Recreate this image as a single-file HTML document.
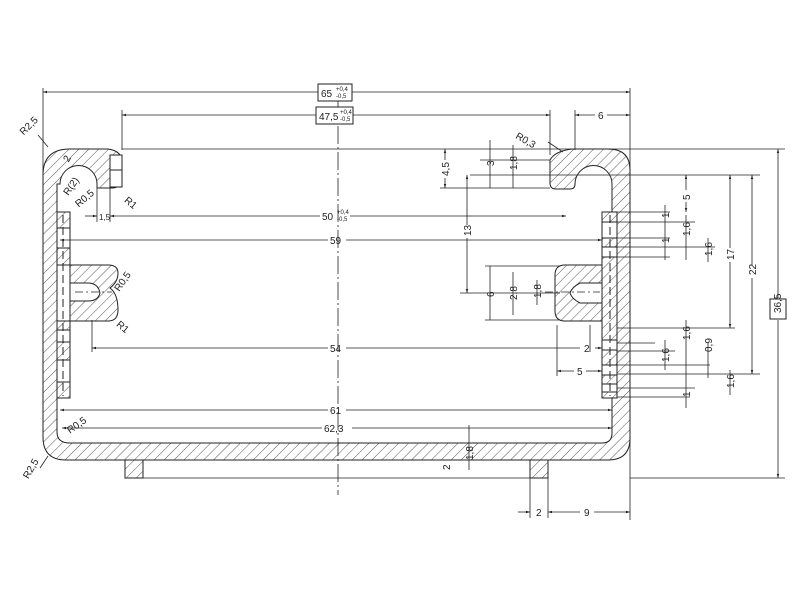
<!DOCTYPE html>
<html><head><meta charset="utf-8"><style>
html,body{margin:0;padding:0;background:#fff}
svg{display:block}
text{font-family:"Liberation Sans",sans-serif;font-size:10px;fill:#222}
</style></head><body>
<svg width="800" height="600" viewBox="0 0 800 600" xmlns="http://www.w3.org/2000/svg">
<defs>
<pattern id="h" patternUnits="userSpaceOnUse" width="7" height="7" patternTransform="rotate(45)">
<rect width="7" height="7" fill="#fff"/><line x1="0" y1="0" x2="0" y2="7" stroke="#444" stroke-width="0.9"/>
</pattern>
<marker id="a" viewBox="0 0 10 10" refX="10" refY="5" markerWidth="7" markerHeight="5" orient="auto-start-reverse"><path d="M0,2 L10,5 L0,8z" fill="#222"/></marker>
</defs>
<g stroke="#222" stroke-width="1" fill="none">
<!-- body -->
<path fill="url(#h)" fill-rule="evenodd" d="M43,175 Q43,149 70,149 L108,149 Q122,151 122,162 L122,180 Q120,188 112,188 L97,188 L97,184 A18.5,18.5 0 0 0 60,184 L57,184 L57,432 Q57,443 70,443 L602,443 Q612,443 612,433 L612,184 A18.5,18.5 0 0 0 575,184 L575,184 Q575,189 570,189 L556,189 Q550,189 550,183 L550,160 Q555,151 572,149 L608,149 Q630,149 630,170 L630,438 Q630,460 608,460 L66,460 Q43,460 43,437 Z"/>
<rect x="110" y="155" width="12" height="32" fill="#fff"/>
<line x1="110" y1="170" x2="122" y2="170"/>
<!-- inserts -->
<rect x="57" y="212" width="13" height="186" fill="url(#h)"/>
<rect x="602" y="212" width="15" height="186" fill="url(#h)"/>
<g fill="#fff">
<rect x="57" y="228" width="13" height="20"/><rect x="57" y="265" width="13" height="56"/>
<rect x="57" y="330" width="13" height="12"/><rect x="57" y="360" width="13" height="22"/>
<rect x="602" y="222" width="15" height="16"/><rect x="602" y="247" width="15" height="10"/>
<rect x="602" y="340" width="15" height="10"/><rect x="602" y="365" width="15" height="10"/><rect x="602" y="384" width="15" height="8"/>
</g>
<line x1="63" y1="215" x2="63" y2="396" stroke-dasharray="8,4"/>
<line x1="610" y1="215" x2="610" y2="396" stroke-dasharray="8,4"/>
<!-- clips -->
<path fill="url(#h)" d="M70,265 L108,265 Q118,265 118,273 Q118,282 110,288 Q118,294 118,310 Q118,321 108,321 L70,321 Z"/>
<path fill="#fff" d="M70,283 L88,283 Q98,283 100,293 Q98,301 88,301 L70,301 Z"/>
<path fill="url(#h)" d="M602,265 L565,265 Q555,265 555,275 L555,311 Q555,321 565,321 L602,321 Z"/>
<path fill="#fff" d="M602,283 L580,283 Q572,287 570,293 Q572,299 580,303 L602,303 Z"/>
<!-- feet -->
<rect x="125" y="460" width="18" height="18" fill="url(#h)"/>
<rect x="530" y="460" width="18" height="18" fill="url(#h)"/>
<!-- centre line -->
<line x1="338" y1="100" x2="338" y2="495" stroke-dasharray="18,3,2,3" stroke-width="0.8"/>
<line x1="75" y1="292" x2="112" y2="292" stroke-dasharray="8,3,2,3" stroke-width="0.8"/>
<line x1="545" y1="292" x2="600" y2="292" stroke-dasharray="8,3,2,3" stroke-width="0.8"/>
</g>
<g stroke="#222" stroke-width="0.8" fill="none">
<!-- extension lines -->
<line x1="43" y1="88" x2="43" y2="175"/><line x1="630" y1="88" x2="630" y2="520"/>
<line x1="122" y1="110" x2="122" y2="150"/><line x1="550" y1="110" x2="550" y2="155"/>
<line x1="575" y1="110" x2="575" y2="150"/>
<line x1="122" y1="149" x2="785" y2="149"/>
<line x1="470" y1="175" x2="760" y2="175"/>
<line x1="440" y1="188" x2="550" y2="188"/>
<line x1="480" y1="160" x2="550" y2="160"/>
<line x1="460" y1="293" x2="560" y2="293"/>
<line x1="485" y1="266" x2="560" y2="266"/><line x1="485" y1="320" x2="560" y2="320"/>
<line x1="630" y1="478" x2="785" y2="478"/><line x1="143" y1="478" x2="530" y2="478"/>
<line x1="530" y1="478" x2="530" y2="518"/><line x1="548" y1="478" x2="548" y2="518"/>
<line x1="617" y1="212" x2="670" y2="212"/><line x1="617" y1="222" x2="695" y2="222"/>
<line x1="617" y1="238" x2="670" y2="238"/><line x1="617" y1="247" x2="715" y2="247"/><line x1="617" y1="257" x2="670" y2="257"/>
<line x1="617" y1="328" x2="735" y2="328"/><line x1="617" y1="343" x2="655" y2="343"/><line x1="617" y1="351" x2="675" y2="351"/>
<line x1="617" y1="365" x2="710" y2="365"/><line x1="617" y1="374" x2="760" y2="374"/><line x1="617" y1="388" x2="695" y2="388"/><line x1="617" y1="397" x2="690" y2="397"/>
<line x1="97" y1="188" x2="97" y2="222"/><line x1="110" y1="188" x2="110" y2="222"/>
<line x1="92" y1="320" x2="92" y2="352"/><line x1="590" y1="325" x2="590" y2="352"/><line x1="557" y1="325" x2="557" y2="376"/>
<!-- dims -->
<line x1="43" y1="92" x2="318" y2="92" marker-start="url(#a)"/><line x1="352" y1="92" x2="630" y2="92" marker-end="url(#a)"/>
<line x1="122" y1="115" x2="316" y2="115" marker-start="url(#a)"/><line x1="353" y1="115" x2="550" y2="115" marker-end="url(#a)"/>
<line x1="575" y1="115" x2="595" y2="115" marker-start="url(#a)"/><line x1="607" y1="115" x2="630" y2="115" marker-end="url(#a)"/>
<line x1="85" y1="216" x2="97" y2="216" marker-end="url(#a)"/><line x1="110" y1="216" x2="320" y2="216" marker-start="url(#a)"/><line x1="350" y1="216" x2="566" y2="216" marker-end="url(#a)"/>
<line x1="60" y1="240" x2="328" y2="240" marker-start="url(#a)"/><line x1="346" y1="240" x2="602" y2="240" marker-end="url(#a)"/>
<line x1="92" y1="348" x2="328" y2="348" marker-start="url(#a)"/><line x1="346" y1="348" x2="580" y2="348"/><line x1="595" y1="348" x2="602" y2="348" marker-end="url(#a)"/>
<line x1="60" y1="410" x2="328" y2="410" marker-start="url(#a)"/><line x1="346" y1="410" x2="612" y2="410" marker-end="url(#a)"/>
<line x1="62" y1="428" x2="322" y2="428" marker-start="url(#a)"/><line x1="352" y1="428" x2="612" y2="428" marker-end="url(#a)"/>
<line x1="557" y1="371" x2="574" y2="371" marker-start="url(#a)"/><line x1="586" y1="371" x2="602" y2="371" marker-end="url(#a)"/>
<line x1="518" y1="512" x2="530" y2="512" marker-end="url(#a)"/><line x1="548" y1="512" x2="580" y2="512" marker-start="url(#a)"/><line x1="594" y1="512" x2="630" y2="512" marker-end="url(#a)"/>
<line x1="778" y1="149" x2="778" y2="298" marker-start="url(#a)"/><line x1="778" y1="320" x2="778" y2="478" marker-end="url(#a)"/>
<line x1="752" y1="175" x2="752" y2="265" marker-start="url(#a)"/><line x1="752" y1="278" x2="752" y2="374" marker-end="url(#a)"/>
<line x1="730" y1="175" x2="730" y2="248" marker-start="url(#a)"/><line x1="730" y1="262" x2="730" y2="328" marker-end="url(#a)"/>
<line x1="686" y1="175" x2="686" y2="190" marker-start="url(#a)"/><line x1="686" y1="202" x2="686" y2="212" marker-end="url(#a)"/>
<line x1="467" y1="175" x2="467" y2="225" marker-start="url(#a)"/><line x1="467" y1="238" x2="467" y2="293" marker-end="url(#a)"/>
<line x1="445" y1="149" x2="445" y2="160" marker-start="url(#a)"/><line x1="445" y1="178" x2="445" y2="188" marker-end="url(#a)"/>
<line x1="490" y1="140" x2="490" y2="188"/><line x1="513" y1="145" x2="513" y2="188"/>
<line x1="490" y1="266" x2="490" y2="320"/><line x1="513" y1="272" x2="513" y2="315"/><line x1="537" y1="280" x2="537" y2="305"/>
<line x1="469" y1="425" x2="469" y2="470"/><line x1="665" y1="205" x2="665" y2="260"/><line x1="686" y1="215" x2="686" y2="260"/><line x1="708" y1="238" x2="708" y2="262"/>
<line x1="665" y1="340" x2="665" y2="370"/><line x1="686" y1="320" x2="686" y2="408"/><line x1="708" y1="343" x2="708" y2="378"/><line x1="730" y1="370" x2="730" y2="395"/>
<line x1="48" y1="147" x2="38" y2="135"/><line x1="48" y1="456" x2="40" y2="468"/>
<line x1="563" y1="152" x2="548" y2="142"/>
</g>
<g stroke="#222" stroke-width="1" fill="#fff">
<rect x="318" y="84" width="34" height="17"/><rect x="316" y="107" width="37" height="17"/><rect x="770" y="299" width="16" height="20"/>
</g>
<g>
<text x="321" y="97">65</text><text x="336" y="91" style="font-size:6px">+0,4</text><text x="336" y="98" style="font-size:6px">-0,5</text>
<text x="319" y="120">47,5</text><text x="340" y="114" style="font-size:6px">+0,4</text><text x="340" y="121" style="font-size:6px">-0,5</text>
<text x="598" y="119">6</text>
<text x="322" y="220">50</text><text x="337" y="214" style="font-size:6px">+0,4</text><text x="337" y="221" style="font-size:6px">-0,5</text>
<text x="99" y="220" style="font-size:8px">1,5</text>
<text x="330" y="244">59</text><text x="330" y="352">54</text><text x="330" y="414">61</text><text x="324" y="432">62,3</text>
<text x="584" y="352">2</text><text x="577" y="375">5</text><text x="536" y="516">2</text><text x="584" y="516">9</text>
<text x="20" y="133" transform="rotate(-45 25 130)">R2,5</text>
<text x="20" y="475" transform="rotate(-60 28 470)">R2,5</text>
<text x="64" y="192" transform="rotate(-55 70 190)">R(2)</text>
<text x="74" y="205" transform="rotate(-40 80 200)">R0,5</text>
<text x="126" y="205" transform="rotate(40 130 200)">R1</text>
<text x="67" y="160" transform="rotate(-60 70 160)">2</text>
<text x="517" y="140" transform="rotate(30 520 135)">R0,3</text>
<text x="113" y="290" transform="rotate(-55 118 285)">R0,5</text>
<text x="117" y="328" transform="rotate(40 120 325)">R1</text>
<text x="68" y="432" transform="rotate(-35 72 430)">R0,5</text>
</g>
<g style="font-size:9px">
<text transform="translate(781,313) rotate(-90)">36,5</text>
<text transform="translate(756,275) rotate(-90)">22</text>
<text transform="translate(734,260) rotate(-90)">17</text>
<text transform="translate(690,200) rotate(-90)">5</text>
<text transform="translate(471,236) rotate(-90)">13</text>
<text transform="translate(449,176) rotate(-90)">4,5</text>
<text transform="translate(494,166) rotate(-90)">3</text>
<text transform="translate(517,170) rotate(-90)">1,8</text>
<text transform="translate(494,297) rotate(-90)">6</text>
<text transform="translate(517,300) rotate(-90)">2,8</text>
<text transform="translate(541,298) rotate(-90)">1,8</text>
<text transform="translate(473,460) rotate(-90)">1,8</text>
<text transform="translate(450,470) rotate(-90)">2</text>
<text transform="translate(669,218) rotate(-90)">1</text>
<text transform="translate(690,236) rotate(-90)">1,6</text>
<text transform="translate(669,243) rotate(-90)">1</text>
<text transform="translate(712,256) rotate(-90)">1,6</text>
<text transform="translate(690,340) rotate(-90)">1,6</text>
<text transform="translate(669,362) rotate(-90)">1,6</text>
<text transform="translate(712,352) rotate(-90)">0,9</text>
<text transform="translate(734,388) rotate(-90)">1,6</text>
<text transform="translate(690,397) rotate(-90)">1</text>
</g>
</svg>
</body></html>
